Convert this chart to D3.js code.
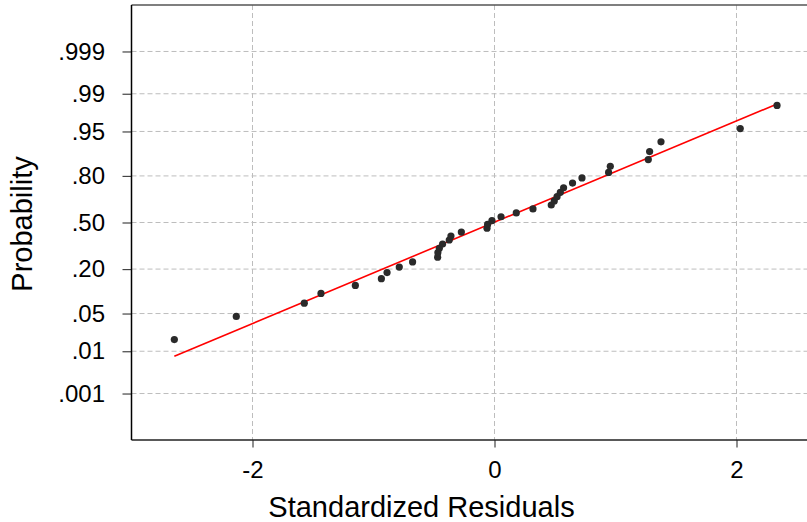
<!DOCTYPE html>
<html>
<head>
<meta charset="utf-8">
<script src="https://cdn.jsdelivr.net/npm/d3@7"></script>
<style>
  html, body { margin: 0; padding: 0; background: #fff; }
  svg { display: block; font-family: "Liberation Sans", Arial, sans-serif; }
</style>
</head>
<body>
<svg id="chart" width="807" height="522"></svg>
<script>
// Standardized residuals, sorted, with their cumulative plotting probabilities
const residuals = [
  -2.646, -2.134, -1.572, -1.434, -1.150, -0.935, -0.888, -0.787, -0.677,
  -0.470, -0.468, -0.456, -0.429, -0.374, -0.360, -0.274, -0.062, -0.057,
  -0.021, 0.054, 0.180, 0.318, 0.469, 0.494, 0.517, 0.544, 0.571,
  0.645, 0.723, 0.943, 0.957, 1.271, 1.282, 1.376, 2.031, 2.335
];
const probabilities = [
  0.0172, 0.0448, 0.0724, 0.1000, 0.1276, 0.1552, 0.1828, 0.2103, 0.2379,
  0.2655, 0.2931, 0.3207, 0.3483, 0.3759, 0.4034, 0.4310, 0.4586, 0.4862,
  0.5138, 0.5414, 0.5690, 0.5966, 0.6241, 0.6517, 0.6793, 0.7069, 0.7345,
  0.7621, 0.7897, 0.8172, 0.8448, 0.8724, 0.9000, 0.9276, 0.9552, 0.9828
];

// Fitted normal reference line (normal score = intercept + slope * residual)
const fitIntercept = 0.005;
const fitSlope = 0.915;

// Axis ticks
const xTicks = [-2, 0, 2];
const xTickLabels = ["-2", "0", "2"];
const yTicks = [0.001, 0.01, 0.05, 0.20, 0.50, 0.80, 0.95, 0.99, 0.999];
const yTickLabels = [".001", ".01", ".05", ".20", ".50", ".80", ".95", ".99", ".999"];

// Inverse standard normal CDF (Acklam's rational approximation)
function probit(p) {
  const a = [-3.969683028665376e+01, 2.209460984245205e+02, -2.759285104469687e+02,
             1.383577518672690e+02, -3.066479806614716e+01, 2.506628277459239e+00];
  const b = [-5.447609879822406e+01, 1.615858368580409e+02, -1.556989798598866e+02,
             6.680131188771972e+01, -1.328068155288572e+01];
  const c = [-7.784894002430293e-03, -3.223964580411365e-01, -2.400758277161838e+00,
             -2.549732539343734e+00, 4.374664141464968e+00, 2.938163982698783e+00];
  const d = [7.784695709041462e-03, 3.224671290700398e-01, 2.445134137142996e+00,
             3.754408661907416e+00];
  const pl = 0.02425, ph = 1 - pl;
  let q, r;
  if (p < pl) {
    q = Math.sqrt(-2 * Math.log(p));
    return (((((c[0]*q+c[1])*q+c[2])*q+c[3])*q+c[4])*q+c[5]) /
           ((((d[0]*q+d[1])*q+d[2])*q+d[3])*q+1);
  }
  if (p <= ph) {
    q = p - 0.5; r = q * q;
    return (((((a[0]*r+a[1])*r+a[2])*r+a[3])*r+a[4])*r+a[5])*q /
           (((((b[0]*r+b[1])*r+b[2])*r+b[3])*r+b[4])*r+1);
  }
  q = Math.sqrt(-2 * Math.log(1 - p));
  return -(((((c[0]*q+c[1])*q+c[2])*q+c[3])*q+c[4])*q+c[5]) /
          ((((d[0]*q+d[1])*q+d[2])*q+d[3])*q+1);
}

const svg = d3.select("#chart");
const W = 807;
const plotLeft = 131.5, plotTop = 5, plotBottom = 440;

// x: residual scale; y: normal-score scale (probabilities mapped through probit)
const x = d3.scaleLinear().domain([-3, 2.6]).range([plotLeft, plotLeft + 5.6 * 121]);
const z = d3.scaleLinear().domain([-3.93, 3.93]).range([plotBottom, plotTop]);
const yP = p => z(probit(p));

const gridColor = "#bdbdbd";

// Grid
const grid = svg.append("g").attr("class", "grid");
grid.selectAll("line.h").data(yTicks).join("line")
  .attr("class", "h")
  .attr("x1", plotLeft).attr("x2", W)
  .attr("y1", d => yP(d)).attr("y2", d => yP(d))
  .attr("stroke", gridColor).attr("stroke-width", 1)
  .attr("stroke-dasharray", "5,3");
grid.selectAll("line.v").data(xTicks).join("line")
  .attr("class", "v")
  .attr("x1", d => x(d)).attr("x2", d => x(d))
  .attr("y1", plotTop).attr("y2", plotBottom)
  .attr("stroke", gridColor).attr("stroke-width", 1)
  .attr("stroke-dasharray", "5,3");

// Frame: top border
svg.append("line")
  .attr("x1", plotLeft).attr("x2", W)
  .attr("y1", plotTop).attr("y2", plotTop)
  .attr("stroke", "#555").attr("stroke-width", 1.5);

// Axes
const xAxis = d3.axisBottom(x)
  .tickValues(xTicks)
  .tickFormat((d, i) => xTickLabels[i])
  .tickSize(7.5).tickPadding(13);
const gx = svg.append("g")
  .attr("transform", `translate(0,${plotBottom})`)
  .call(xAxis);
gx.select(".domain").remove();
gx.append("line")
  .attr("x1", plotLeft).attr("x2", W)
  .attr("stroke", "#222").attr("stroke-width", 1.5);

const yAxis = d3.axisLeft(z)
  .tickValues(yTicks.map(probit))
  .tickFormat((d, i) => yTickLabels[i])
  .tickSize(9).tickPadding(17.5);
const gy = svg.append("g")
  .attr("transform", `translate(${plotLeft},0)`)
  .call(yAxis);
gy.select(".domain").remove();
gy.append("line")
  .attr("y1", plotTop).attr("y2", plotBottom)
  .attr("stroke", "#000").attr("stroke-width", 1.5);

[gx, gy].forEach(g => {
  g.selectAll(".tick line").attr("stroke", "#444").attr("stroke-width", 1.2);
  g.selectAll(".tick text")
    .attr("fill", "#000")
    .style("font-size", "24px")
    .style("font-family", "'Liberation Sans', Arial, sans-serif");
});

// Fitted line, spanning the observed residual range
const xr = d3.extent(residuals);
svg.append("line")
  .attr("x1", x(xr[0])).attr("y1", z(fitIntercept + fitSlope * xr[0]))
  .attr("x2", x(xr[1])).attr("y2", z(fitIntercept + fitSlope * xr[1]))
  .attr("stroke", "#ff0000").attr("stroke-width", 1.6);

// Observations
svg.append("g").selectAll("circle")
  .data(residuals.map((r, i) => ({ r, p: probabilities[i] })))
  .join("circle")
  .attr("cx", d => x(d.r))
  .attr("cy", d => yP(d.p))
  .attr("r", 3.6)
  .attr("fill", "#2a2a2a");

// Axis titles
svg.append("text")
  .attr("x", 421.5).attr("y", 517)
  .attr("text-anchor", "middle")
  .style("font-size", "29px")
  .text("Standardized Residuals");

svg.append("text")
  .attr("transform", "translate(32,224) rotate(-90)")
  .attr("text-anchor", "middle")
  .style("font-size", "29px")
  .text("Probability");
</script>
</body>
</html>
